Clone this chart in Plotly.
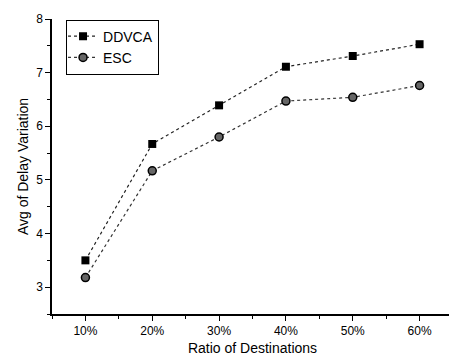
import plotly.graph_objects as go

ratios = [10, 20, 30, 40, 50, 60]
tick_labels = ["10%", "20%", "30%", "40%", "50%", "60%"]
ddvca = [3.50, 5.67, 6.39, 7.11, 7.31, 7.53]
esc = [3.18, 5.17, 5.80, 6.47, 6.54, 6.76]

fig = go.Figure()
fig.add_trace(go.Scatter(
    x=ratios, y=ddvca, name="DDVCA", mode="lines+markers",
    line=dict(color="#222", width=1.2, dash="dot"),
    marker=dict(symbol="square", size=8, color="black"),
))
fig.add_trace(go.Scatter(
    x=ratios, y=esc, name="ESC", mode="lines+markers",
    line=dict(color="#333", width=1.2, dash="dot"),
    marker=dict(symbol="circle", size=8, color="#666", line=dict(color="black", width=1.5)),
))

font = "Liberation Sans, Arial, sans-serif"
fig.update_layout(
    width=449, height=353,
    margin=dict(l=44, r=4, t=8, b=47),
    plot_bgcolor="white", paper_bgcolor="white",
    font=dict(family=font, color="black", size=12),
    showlegend=True,
    legend=dict(
        x=0.035, y=0.998, xanchor="left", yanchor="top",
        bordercolor="black", borderwidth=1, bgcolor="white",
        font=dict(size=14, family=font), tracegroupgap=0,
        itemwidth=30, indentation=-4,
    ),
    xaxis=dict(
        range=[5, 65], tickvals=ratios, ticktext=tick_labels,
        showline=True, linecolor="black", linewidth=1.5,
        ticks="outside", ticklen=5, tickwidth=1, tickcolor="black",
        minor=dict(dtick=5, tick0=5, ticks="outside", ticklen=3, tickcolor="black"),
        showgrid=False, zeroline=False,
        title=dict(text="Ratio of Destinations", font=dict(size=14), standoff=6),
    ),
    yaxis=dict(
        range=[2.5, 8], tickvals=[3, 4, 5, 6, 7, 8],
        showline=True, linecolor="black", linewidth=1.5,
        ticks="outside", ticklen=5, tickwidth=1, tickcolor="black",
        minor=dict(dtick=0.5, tick0=2.5, ticks="outside", ticklen=3, tickcolor="black"),
        showgrid=False, zeroline=False,
        title=dict(text="Avg of Delay Variation", font=dict(size=14), standoff=4),
    ),
)
fig.write_html("out.html")
